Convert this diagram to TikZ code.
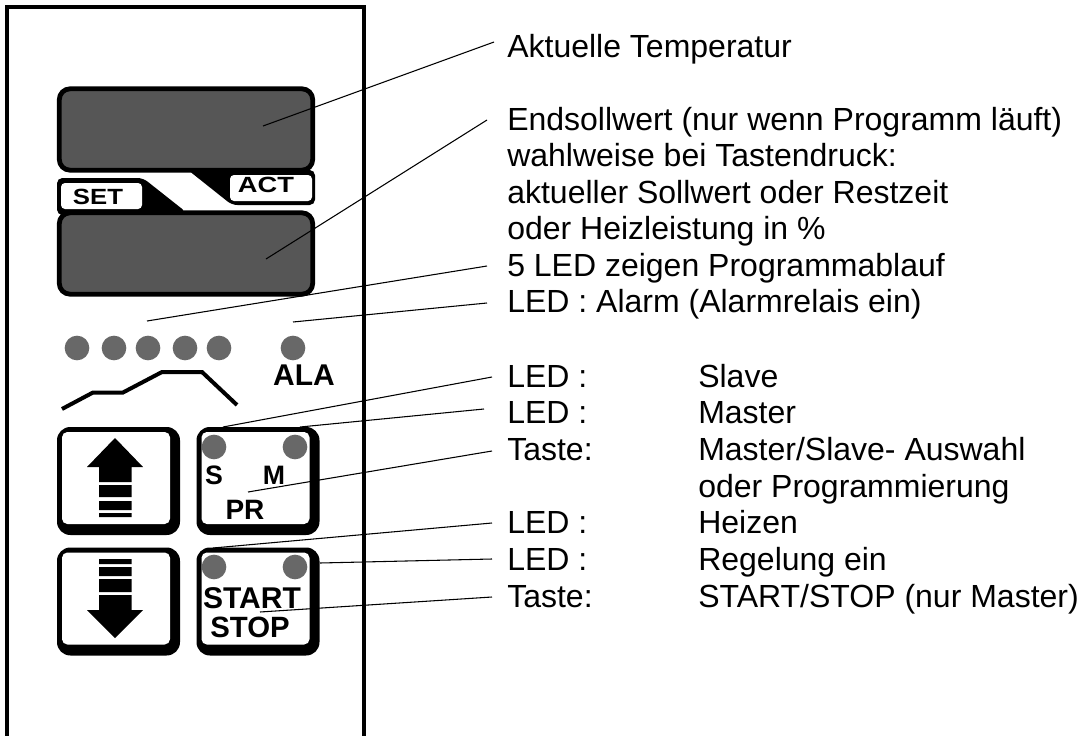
\documentclass[tikz,border=0pt]{standalone}
\usepackage{fontspec}
\setmainfont{Liberation Sans}
\definecolor{ledgray}{HTML}{686868}
\definecolor{dispgray}{HTML}{565656}
\tikzstyle{lbl}=[anchor=base west,inner sep=0,font=\fontsize{24}{28}\selectfont]
\tikzstyle{leader}=[line width=.8pt]
\tikzstyle{led}=[shape=circle,minimum size=18.5pt,inner sep=0,fill=ledgray]
\tikzstyle{display}=[rectangle,rounded corners=8pt,minimum width=190pt,minimum height=61pt,inner sep=0,line width=3.6pt,draw=black,fill=dispgray]
\tikzstyle{keybody}=[rectangle,rounded corners=10pt,minimum width=92.25pt,minimum height=81pt,inner sep=0,fill=black]
\tikzstyle{keyface}=[rectangle,rounded corners=4pt,minimum width=81pt,minimum height=69pt,inner sep=0,fill=white]
\tikzstyle{keytxt}=[inner sep=0,font=\bfseries\fontsize{21}{24}\selectfont]
\tikzstyle{tabtxt}=[inner sep=0,font=\bfseries\fontsize{16.5}{18}\selectfont]
\begin{document}
\begin{tikzpicture}[x=.75pt,y=-.75pt]
\useasboundingbox (0,0) rectangle (1083,736);
% housing
\draw[line width=3pt] (7,736)--(7,7)--(363.5,7)--(363.5,736);
% tabs between the displays
\fill[rounded corners=4pt] (57,215)--(57,178)--(143,178)--(186,212)--cycle;
\fill[white,rounded corners=3pt] (61,183)--(142,183)--(142,209)--(61,209)--cycle;
\fill[rounded corners=4pt] (188,170)--(315,170)--(315,205)--(232,205)--cycle;
\fill[white,rounded corners=3pt] (230,175)--(312,175)--(312,201)--(230,201)--cycle;
\node[tabtxt] (set) at (98,197) {\scalebox{1.17}[1]{SET}};
\node[tabtxt] (act) at (266,185) {\scalebox{1.24}[1]{ACT}};
\node[display] (dispact) at (186,129.5) {};
\node[display] (dispset) at (186,253.5) {};
% program leds and profile
\foreach \i/\x in {a/77,b/114,c/148,d/185,e/219,ala/293}
  \node[led] (led\i) at (\x,348) {};
\node[keytxt,font=\bfseries\fontsize{22.5}{24}\selectfont] (ala) at (304,375) {ALA};
\draw[line width=3pt] (62,409)--(93,392.5)--(123,392.5)--(162,372)--(202,372)--(237,405);
% keys
\foreach \nm/\x/\y in {up/118.5/481,pr/258/481,down/118.5/601.5,start/258/601.5}{
  \node[keybody] (\nm) at (\x,\y) {};
  \node[keyface] (\nm face) at ([shift={(-2.5,-3)}]\nm.center) {};
}
\foreach \i/\x/\y in {s/214/447,m/295/447,h/214/567,r/295/567}
  \node[led] (led\i) at (\x,\y) {};
% arrows
\fill (115,438)--(143,467)--(131.5,467)--(131.5,482)--(99,482)--(99,467)--(87,467)--cycle;
\fill (99,485) rectangle (131.5,497) (99,501) rectangle (131.5,510) (99,513) rectangle (131.5,517);
\fill (115,638)--(143,610)--(131.5,610)--(131.5,595)--(99,595)--(99,610)--(87,610)--cycle;
\fill (99,559) rectangle (131.5,564) (99,567) rectangle (131.5,576) (99,579) rectangle (131.5,592);
\node[keytxt,font=\bfseries\fontsize{20}{24}\selectfont] (txts) at (214,475) {S};
\node[keytxt,font=\bfseries\fontsize{20}{24}\selectfont] (txtm) at (274,475) {M};
\node[keytxt] (txtpr) at (245,510) {PR};
\node[keytxt,font=\bfseries\fontsize{22.5}{24}\selectfont] (txtstart) at (252,598) {START};
\node[keytxt,font=\bfseries\fontsize{22}{24}\selectfont] (txtstop) at (250,627) {STOP};
% texts
\node[lbl] (lblTemp) at (507,57) {Aktuelle Temperatur};
\node[lbl] (lblSoll) at (507,130) {Endsollwert (nur wenn Programm läuft)};
\node[lbl] (lblWahl) at (507,166.5) {wahlweise bei Tastendruck:};
\node[lbl] (lblAkt) at (507,203) {aktueller Sollwert oder Restzeit};
\node[lbl] (lblHeiz) at (507,239.5) {oder Heizleistung in \%};
\node[lbl] (lblProg) at (507,276) {5 LED zeigen Programmablauf};
\node[lbl] (lblAlarm) at (507,312.5) {LED : Alarm (Alarmrelais ein)};
\node[lbl] (lblSlave) at (507,387) {LED :};
\node[lbl] (lblMaster) at (507,423) {LED :};
\node[lbl] (lblPR) at (507,460) {Taste:};
\node[lbl] (lblHeizen) at (507,533) {LED :};
\node[lbl] (lblRegel) at (507,570) {LED :};
\node[lbl] (lblStart) at (507,607) {Taste:};
\node[lbl] (valSlave) at (698,387) {Slave};
\node[lbl] (valMaster) at (698,423) {Master};
\node[lbl] (valPR) at (698,460) {Master/Slave- Auswahl};
\node[lbl] (valPRb) at (698,497) {oder Programmierung};
\node[lbl] (valHeizen) at (698,533) {Heizen};
\node[lbl] (valRegel) at (698,570) {Regelung ein};
\node[lbl] (valStart) at (698,607) {START/STOP (nur Master)};
% leaders
\foreach \lab/\tx/\ty/\dx/\dy in {Temp/263/126/-13/-15,Soll/266/259/-20/-10,Prog/147/321/-20/-10,
  Alarm/293/322/-20/-9.5,Slave/223/427/-15/-10,Master/300/427/-23/-14,PR/248/492/-15/-9,
  Heizen/213/548/-15/-10,Regel/320/563/-15/-11,Start/260/612/-15/-10}{
  \coordinate (tip\lab) at (\tx,\ty);
  \draw[leader] (tip\lab)--([shift={(\dx,\dy)}]lbl\lab.base west);
}
\end{tikzpicture}
\end{document}
